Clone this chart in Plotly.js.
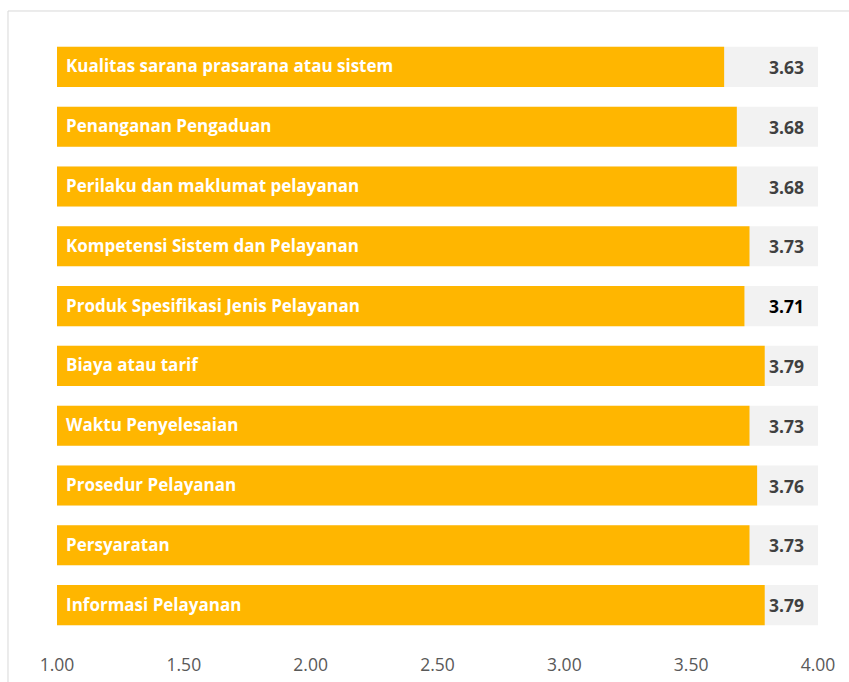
<!DOCTYPE html>
<html>
<head>
<meta charset="utf-8">
<script src="https://cdn.plot.ly/plotly-3.0.1.min.js"></script>
<style>html,body{margin:0;padding:0;background:#fff;}#chart{width:849px;height:682px;}</style>
</head>
<body>
<div id="chart"></div>
<script>
const categories = [
  "Kualitas sarana prasarana atau sistem",
  "Penanganan Pengaduan",
  "Perilaku dan maklumat pelayanan",
  "Kompetensi Sistem dan Pelayanan",
  "Produk Spesifikasi Jenis Pelayanan",
  "Biaya atau tarif",
  "Waktu Penyelesaian",
  "Prosedur Pelayanan",
  "Persyaratan",
  "Informasi Pelayanan"
];
const scores = [3.63, 3.68, 3.68, 3.73, 3.71, 3.79, 3.73, 3.76, 3.73, 3.79];
const maxScore = 4.00;
const minScore = 1.00;
const tickValues = [1.00, 1.50, 2.00, 2.50, 3.00, 3.50, 4.00];
const tickLabels = ["1.00", "1.50", "2.00", "2.50", "3.00", "3.50", "4.00"];

const bgTrace = {
  type: 'bar', orientation: 'h',
  y: categories,
  x: categories.map(() => maxScore - minScore),
  base: minScore,
  marker: {color: '#f2f2f2'},
  width: 0.67,
  hoverinfo: 'skip',
  showlegend: false
};
const fgTrace = {
  type: 'bar', orientation: 'h',
  y: categories,
  x: scores.map(v => v - minScore),
  base: minScore,
  marker: {color: '#ffb600'},
  width: 0.67,
  showlegend: false
};

const annotations = [];
categories.forEach((c, i) => {
  annotations.push({
    x: minScore, y: c, xref: 'x', yref: 'y',
    text: c, showarrow: false, xanchor: 'left', xshift: 7, yshift: 1,
    font: {family: 'Open Sans, sans-serif', size: 17, color: '#ffffff', weight: 'bold'}
  });
  annotations.push({
    x: maxScore, y: c, xref: 'x', yref: 'y',
    text: scores[i].toFixed(2), showarrow: false, xanchor: 'right', xshift: -12,
    font: {family: 'Open Sans, sans-serif', size: 17.5, color: i === 4 ? '#000000' : '#404040', weight: 'bold'}
  });
});

const layout = {
  width: 849, height: 682,
  margin: {l: 57, r: 31, t: 37, b: 47},
  paper_bgcolor: '#ffffff', plot_bgcolor: '#ffffff',
  barmode: 'overlay',
  xaxis: {
    range: [minScore, maxScore], tickvals: tickValues, ticktext: tickLabels,
    showgrid: false, zeroline: false, showline: false, ticks: '',
    ticklabelstandoff: 17,
    tickfont: {family: 'Open Sans, sans-serif', size: 17.5, color: '#595959'},
    fixedrange: true
  },
  yaxis: {
    autorange: 'reversed', showticklabels: false, showgrid: false,
    zeroline: false, showline: false, ticks: '', fixedrange: true
  },
  annotations: annotations,
  shapes: [
    {type: 'line', xref: 'paper', yref: 'paper', x0: -0.0644, x1: 1.1, y0: 1.0435, y1: 1.0435, line: {color: '#d9d9d9', width: 1}},
    {type: 'line', xref: 'paper', yref: 'paper', x0: -0.0644, x1: -0.0644, y0: 1.0435, y1: -0.2, line: {color: '#d9d9d9', width: 1}}
  ]
};

Plotly.newPlot('chart', [bgTrace, fgTrace], layout, {displayModeBar: false, staticPlot: true});
</script>
</body>
</html>
